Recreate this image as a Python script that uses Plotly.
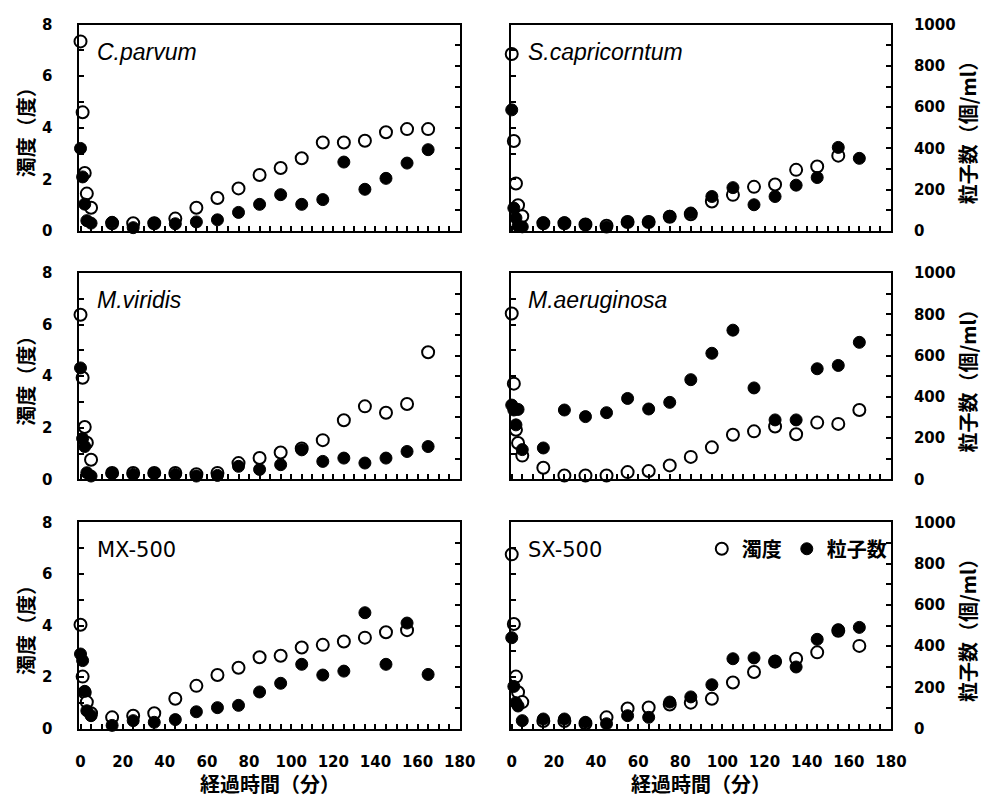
import plotly.graph_objects as go

# ---------------- data ----------------
time_min = [0, 1, 2, 3, 5, 15, 25, 35, 45, 55, 65, 75, 85, 95, 105, 115, 125, 135, 145, 155, 165]

panel_names = ["<i>C.parvum</i>", "<i>S.capricorntum</i>", "<i>M.viridis</i>",
               "<i>M.aeruginosa</i>", "MX-500", "SX-500"]

# turbidity (度), left axis 0-8
turb_cparvum = [7.35, 4.6, 2.25, 1.45, 0.9, 0.3, 0.3, 0.3, 0.48, 0.9, 1.28, 1.65, 2.17, 2.44, 2.82, 3.43, 3.43, 3.5, 3.83, 3.95, 3.95]
turb_scapri = [6.86, 3.49, 1.84, 1.0, 0.57, 0.3, 0.3, 0.25, 0.2, 0.35, 0.35, 0.55, 0.65, 1.14, 1.40, 1.71, 1.80, 2.37, 2.50, 2.92, None]
turb_mviridis = [6.38, 3.94, 2.03, 1.42, 0.76, 0.25, 0.25, 0.25, 0.25, 0.2, 0.25, 0.63, 0.83, 1.04, 1.2, 1.52, 2.29, 2.83, 2.58, 2.92, 4.93]
turb_maerug = [6.43, 3.71, 1.92, 1.41, 0.92, 0.45, 0.15, 0.15, 0.15, 0.28, 0.32, 0.54, 0.87, 1.24, 1.73, 1.86, 2.05, 1.75, 2.20, 2.15, 2.69]
turb_mx500 = [4.03, 2.02, 1.4, 1.03, 0.6, 0.44, 0.50, 0.60, 1.16, 1.66, 2.08, 2.36, 2.77, 2.83, 3.15, 3.25, 3.38, 3.53, 3.74, 3.82, None]
turb_sx500 = [6.76, 4.06, 2.02, 1.41, 1.03, 0.3, 0.3, 0.2, 0.44, 0.78, 0.82, 0.94, 1.01, 1.16, 1.79, 2.20, 2.6, 2.71, 2.96, 3.8, 3.21]

# particle counts (個/ml), right axis 0-1000
part_cparvum = [400, 262, 130, 50, 38, 42, 16, 38, 35, 44, 54, 90, 129, 176, 129, 152, 334, 202, 255, 329, 394]
part_scapri = [587, 111, 63, 24, 20, 40, 40, 32, 19, 44, 44, 71, 87, 167, 210, 127, 167, 222, 259, 405, 352]
part_mviridis = [540, 198, 159, 32, 16, 29, 24, 29, 24, 16, 19, 63, 48, 71, 143, 87, 103, 79, 103, 135, 159]
part_maerug = [360, 336, 264, 339, 144, 152, 336, 304, 323, 392, 341, 373, 483, 611, 723, 443, 288, 288, 536, 552, 664]
part_mx500 = [362, 330, 181, 87, 63, 16, 39, 31, 44, 82, 102, 113, 178, 220, 312, 260, 279, 562, 312, 512, 263]
part_sx500 = [441, 205, 126, 110, 39, 47, 47, 31, 24, 63, 55, 129, 154, 213, 339, 343, 328, 299, 433, 480, 491]

turb_all = [turb_cparvum, turb_scapri, turb_mviridis, turb_maerug, turb_mx500, turb_sx500]
part_all = [part_cparvum, part_scapri, part_mviridis, part_maerug, part_mx500, part_sx500]

# ---------------- layout geometry ----------------
W, H = 1002, 812
col_px = [(77, 465), (517, 905)]
row_px = [(16, 227), (270, 481), (525, 736)]

def xd(a, b):
    return [a / W, b / W]

def yd(top, bot):
    return [1 - bot / H, 1 - top / H]

TICKFONT = dict(family="DejaVu Sans", size=15, color="black", weight="bold")
JP = "Noto Sans CJK JP"

fig = go.Figure()
layout = dict(
    width=W, height=H, margin=dict(l=0, r=0, t=0, b=0),
    paper_bgcolor="white", plot_bgcolor="white",
    showlegend=True,
    legend=dict(orientation="h", x=712 / W, y=1 - 552 / H, xanchor="left", yanchor="middle",
                font=dict(family=JP, size=20, color="black", weight="bold"),
                bgcolor="rgba(0,0,0,0)", itemwidth=30, tracegroupgap=0),
)
annotations = []

for i in range(6):
    r, c = divmod(i, 2)
    n = i + 1
    xa = "x" if n == 1 else f"x{n}"
    ya = "y" if n == 1 else f"y{n}"
    ya2 = f"y{n + 6}"
    bottom = (r == 2)
    layout[f"xaxis{n}"] = dict(
        domain=xd(*col_px[c]), range=[-0.5, 180], anchor=ya,
        showline=True, linewidth=2, linecolor="black", mirror=True,
        ticks="inside", ticklen=5, tickwidth=2, tickcolor="black",
        tick0=0, dtick=20,
        minor=dict(dtick=5, ticks="inside", ticklen=5, tickwidth=2, tickcolor="black"),
        showticklabels=bottom, tickfont=TICKFONT, ticklabelstandoff=18,
        showgrid=False, zeroline=False, fixedrange=True,
    )
    layout[f"yaxis{n}"] = dict(
        domain=yd(*row_px[r]), range=[0, 8], anchor=xa, side="left",
        showline=True, linewidth=2, linecolor="black",
        ticks="inside", ticklen=5, tickwidth=2, tickcolor="black",
        tick0=0, dtick=2,
        minor=dict(dtick=1, ticks="inside", ticklen=5, tickwidth=2, tickcolor="black"),
        showticklabels=(c == 0), tickfont=TICKFONT, ticklabelstandoff=22,
        showgrid=False, zeroline=False, fixedrange=True,
    )
    layout[f"yaxis{n + 6}"] = dict(
        overlaying=ya, range=[0, 1000], anchor=xa, side="right",
        showline=True, linewidth=2, linecolor="black",
        ticks="inside", ticklen=5, tickwidth=2, tickcolor="black",
        tick0=0, dtick=200,
        minor=dict(dtick=100, ticks="inside", ticklen=5, tickwidth=2, tickcolor="black"),
        showticklabels=(c == 1), tickfont=TICKFONT, ticklabelstandoff=18,
        showgrid=False, zeroline=False, fixedrange=True,
    )

    fig.add_trace(go.Scatter(
        x=time_min, y=turb_all[i], xaxis=xa, yaxis=ya, mode="markers",
        name="濁度", showlegend=(i == 5), legendrank=1,
        marker=dict(symbol="circle", size=12, color="white", line=dict(color="black", width=2)),
        cliponaxis=False,
    ))
    fig.add_trace(go.Scatter(
        x=time_min, y=part_all[i], xaxis=xa, yaxis=ya2, mode="markers",
        name="粒子数", showlegend=(i == 5), legendrank=2,
        marker=dict(symbol="circle", size=12, color="black", line=dict(color="black", width=1)),
        cliponaxis=False,
    ))

    # panel label
    lab_font = dict(family="Liberation Sans", size=23, color="black") if i < 4 else \
        dict(family="DejaVu Sans", size=21, color="black")
    annotations.append(dict(
        text=panel_names[i], xref="paper", yref="paper",
        x=(col_px[c][0] + 16) / W, y=1 - (row_px[r][0] + 28) / H,
        xanchor="left", yanchor="middle", showarrow=False, font=lab_font,
    ))

    # axis titles
    rc = (row_px[r][0] + row_px[r][1]) / 2
    if c == 0:
        annotations.append(dict(
            text="濁度（度）", xref="paper", yref="paper", x=22 / W, y=1 - rc / H,
            xanchor="center", yanchor="middle", textangle=-90, showarrow=False,
            font=dict(family=JP, size=20, color="black", weight="bold"),
        ))
    else:
        annotations.append(dict(
            text="粒子数（個/ml）", xref="paper", yref="paper", x=983 / W, y=1 - rc / H,
            xanchor="center", yanchor="middle", textangle=-90, showarrow=False,
            font=dict(family=JP, size=20, color="black", weight="bold"),
        ))
    if bottom:
        annotations.append(dict(
            text="経過時間（分）", xref="paper", yref="paper",
            x=(col_px[c][0] + col_px[c][1]) / 2 / W, y=1 - 792 / H,
            xanchor="center", yanchor="middle", showarrow=False,
            font=dict(family=JP, size=20, color="black", weight="bold"),
        ))

layout["annotations"] = annotations
fig.update_layout(**layout)
fig.write_html("out.html")
